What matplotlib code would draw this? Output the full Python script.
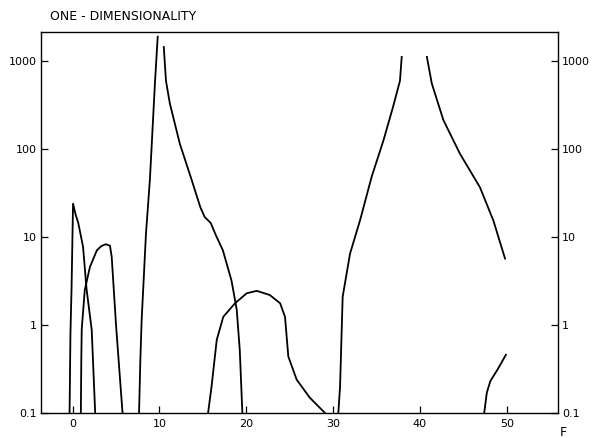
import matplotlib.pyplot as plt
from matplotlib.ticker import FixedLocator, NullLocator

# curves (x = F, y = value on log scale)
a_x = [-0.35, -0.25, -0.12, 0.05, 0.35, 0.65, 1.2, 1.6, 2.2, 2.6]
a_y = [0.1, 0.8, 2.7, 24, 18, 14.5, 7.8, 2.6, 0.88, 0.1]

b_x = [0.95, 1.0, 1.05, 1.4, 2.0, 2.8, 3.3, 3.8, 4.3, 4.5, 5.0, 5.75]
b_y = [0.1, 0.4, 0.9, 2.5, 4.6, 7.1, 7.9, 8.3, 8.0, 6.0, 1.0, 0.1]

c1_x = [7.65, 7.8, 7.95, 8.45, 8.9, 9.1, 9.48, 9.8]
c1_y = [0.1, 0.4, 1.14, 11, 45, 107, 560, 1900]

c2_x = [10.5, 10.75, 11.2, 12.35, 13.7, 14.7, 15.2, 15.9, 16.5, 17.3, 18.3, 18.9, 19.25, 19.55]
c2_y = [1450, 600, 330, 115, 45, 22, 17, 14.5, 10.5, 7.1, 3.2, 1.5, 0.52, 0.1]

d_x = [15.6, 16.0, 16.6, 17.35, 18.7, 20.05, 21.2, 22.7, 23.9, 24.46, 24.84, 25.8, 27.3, 29.07]
d_y = [0.1, 0.2, 0.68, 1.24, 1.77, 2.3, 2.45, 2.2, 1.77, 1.24, 0.44, 0.24, 0.15, 0.1]

e_x = [30.6, 30.8, 31.1, 31.95, 33.1, 34.45, 35.8, 36.9, 37.7, 37.9]
e_y = [0.1, 0.2, 2.1, 6.5, 15.5, 49, 126, 302, 600, 1120]

f_x = [40.8, 41.36, 42.7, 44.6, 46.9, 48.45, 49.8]
f_y = [1120, 560, 214, 89, 37, 15.5, 5.7]

g_x = [47.4, 47.7, 48.1, 49.0, 49.9]
g_y = [0.1, 0.17, 0.23, 0.32, 0.46]

curves = [(a_x, a_y), (b_x, b_y), (c1_x, c1_y), (c2_x, c2_y),
          (d_x, d_y), (e_x, e_y), (f_x, f_y), (g_x, g_y)]

xticks = [0, 10, 20, 30, 40, 50]
yticks = [0.1, 1, 10, 100, 1000]
ylabels = ["0.1", "1", "10", "100", "1000"]

fig = plt.figure(figsize=(5.93, 4.38), dpi=100)
ax = fig.add_axes([0.069, 0.057, 0.872, 0.870])

for cx, cy in curves:
    ax.plot(cx, cy, color="black", linewidth=1.3)

ax.set_yscale("log")
ax.set_xlim(-3.65, 55.9)
ax.set_ylim(0.1, 2150)

ax.xaxis.set_major_locator(FixedLocator(xticks))
ax.yaxis.set_major_locator(FixedLocator(yticks))
ax.yaxis.set_minor_locator(NullLocator())
ax.set_yticklabels(ylabels)

ax.tick_params(direction="in", length=5, width=0.9, labelsize=8, pad=3,
               left=True, right=True, labelleft=True, labelright=True)
ax.tick_params(axis="x", pad=4)
for s in ax.spines.values():
    s.set_linewidth(1.0)

# title & axis label
fig.text(50 / 593, 1 - 17 / 438, "ONE - DIMENSIONALITY", fontsize=9, va="center", ha="left")
fig.text(563 / 593, 1 - 432 / 438, "F", fontsize=9, va="center", ha="center")

fig.savefig("out.png", dpi=100)
